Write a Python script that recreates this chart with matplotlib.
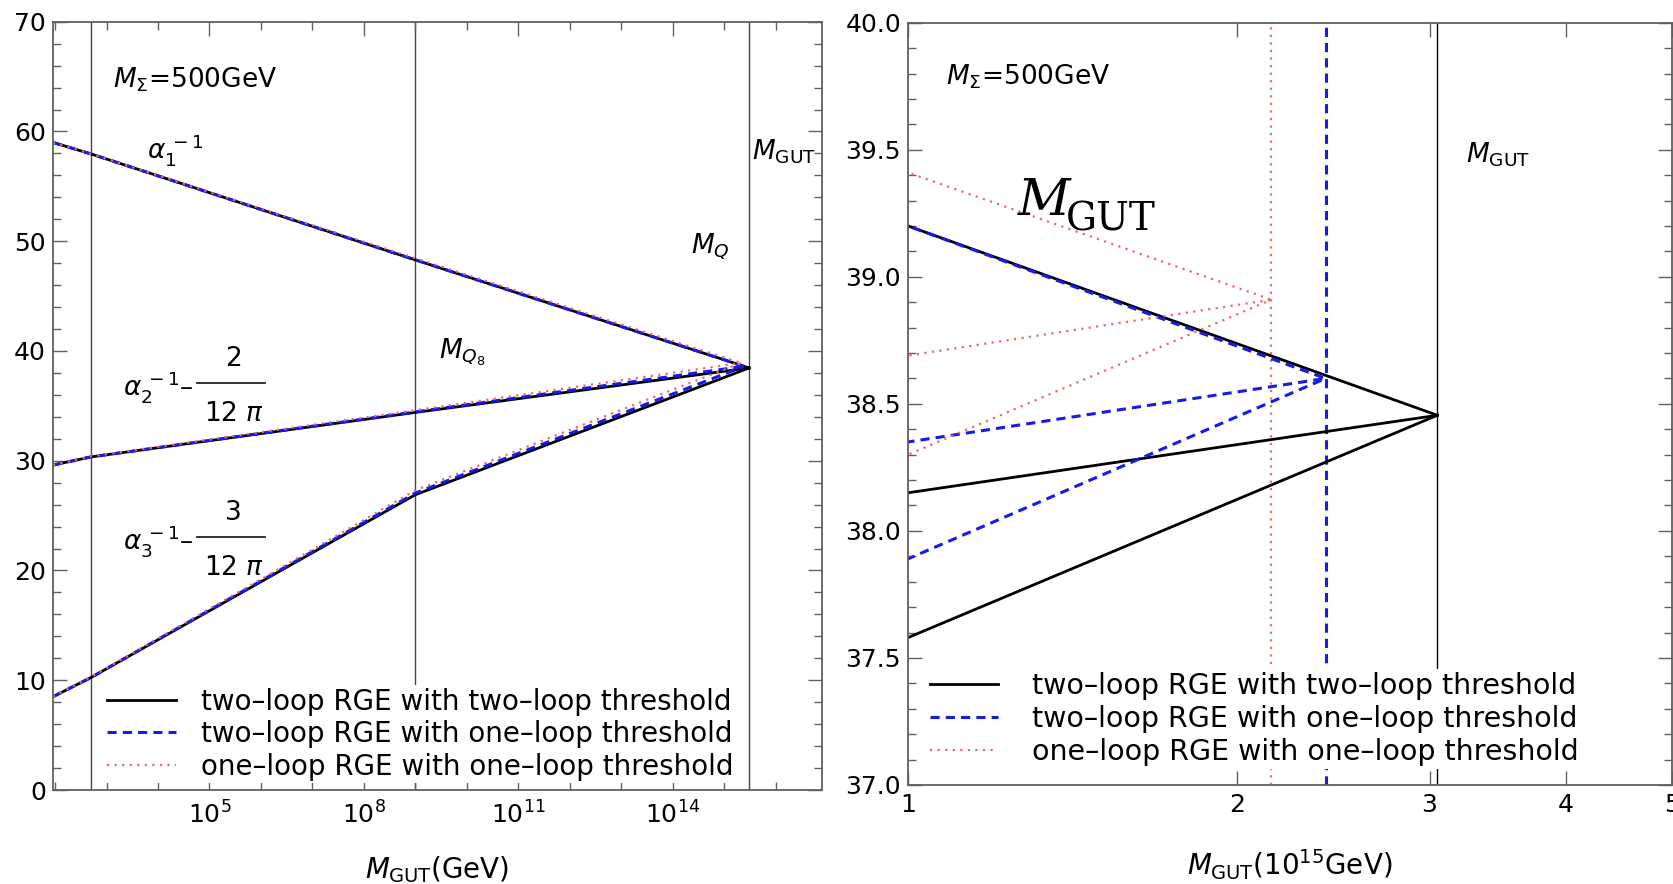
import matplotlib
matplotlib.use("Agg")
import numpy as np
import matplotlib.pyplot as plt
from matplotlib.ticker import (FixedLocator, FixedFormatter, NullFormatter,
                               MultipleLocator, FormatStrFormatter)
from matplotlib.lines import Line2D

plt.rcParams['font.family'] = ['DejaVu Sans']
plt.rcParams['mathtext.fontset'] = 'dejavusans'

# ---- threshold scales (GeV) ----
M_Z = 91.19
M_SIGMA = 500.0
M_Q8 = 1.0e9
M_REF = 1.0e15

# ---- two-loop RGE with two-loop threshold ----
mu_2l2l = [M_Z, M_SIGMA, M_Q8, M_REF, 3.05e15]
a1_2l2l = [59.0, 57.95, 48.3, 39.2, 38.455]
a2_2l2l = [29.6, 30.35, 34.4, 38.15, 38.455]
a3_2l2l = [8.5, 10.25, 26.9, 37.58, 38.455]

# ---- two-loop RGE with one-loop threshold ----
mu_2l1l = [M_Z, M_SIGMA, M_Q8, M_REF, 2.41e15]
a1_2l1l = [59.0, 57.95, 48.3, 39.2, 38.6]
a2_2l1l = [29.6, 30.35, 34.45, 38.35, 38.6]
a3_2l1l = [8.5, 10.25, 27.05, 37.89, 38.6]

# ---- one-loop RGE with one-loop threshold ----
mu_1l1l = [M_Z, M_SIGMA, M_Q8, M_REF, 2.15e15]
a1_1l1l = [59.0, 57.95, 48.45, 39.41, 38.91]
a2_1l1l = [29.6, 30.4, 34.6, 38.69, 38.91]
a3_1l1l = [8.5, 10.3, 27.3, 38.3, 38.91]

labels = ["two\u2013loop RGE with two\u2013loop threshold",
          "two\u2013loop RGE with one\u2013loop threshold",
          "one\u2013loop RGE with one\u2013loop threshold"]

left_xticks = [1e5, 1e8, 1e11, 1e14]
left_xticklabels = [r"$10^{5}$", r"$10^{8}$", r"$10^{11}$", r"$10^{14}$"]
right_xticks = [1, 2, 3, 4, 5]
right_xticklabels = ["1", "2", "3", "4", "5"]

styles = [
    dict(color="black", lw=2.0, ls="-"),
    dict(color="#1a1ae6", lw=2.2, ls=(0, (3.0, 2.0))),
    dict(color="#e86a6a", lw=1.6, ls=(0, (1.0, 2.4))),
]
schemes = [
    (mu_2l2l, [a1_2l2l, a2_2l2l, a3_2l2l]),
    (mu_2l1l, [a1_2l1l, a2_2l1l, a3_2l1l]),
    (mu_1l1l, [a1_1l1l, a2_1l1l, a3_1l1l]),
]

W, H = 1673, 884
fig = plt.figure(figsize=(W / 100, H / 100), dpi=100)
axL = fig.add_axes([53 / W, (H - 790) / H, (822 - 53) / W, (790 - 21.7) / H])
axR = fig.add_axes([908 / W, (H - 785) / H, (1672 - 908) / W, (785 - 22.7) / H])

frame_col = "#606060"
for ax in (axL, axR):
    for sp in ax.spines.values():
        sp.set_color(frame_col)
        sp.set_linewidth(1.3)
    ax.tick_params(which="both", direction="in", top=True, right=True,
                   color=frame_col, width=1.0, labelsize=18)
    ax.tick_params(which="major", length=10)
    ax.tick_params(which="minor", length=6)

# ---- left panel: running couplings ----
axL.set_xscale("log")
axL.set_xlim(M_Z, 8e16)
axL.set_ylim(0, 70)
for sc in (M_SIGMA, M_Q8, mu_2l2l[-1]):
    axL.axvline(sc, color="#454545", lw=1.0, zorder=1)

for (mu, curves), st in zip(schemes, styles):
    for a in curves:
        axL.plot(mu, a, **st)

axL.xaxis.set_major_locator(FixedLocator(left_xticks))
axL.xaxis.set_major_formatter(FixedFormatter(left_xticklabels))
axL.xaxis.set_minor_locator(FixedLocator([10.0 ** k for k in range(2, 17)]))
axL.xaxis.set_minor_formatter(NullFormatter())
axL.yaxis.set_major_locator(MultipleLocator(10))
axL.yaxis.set_minor_locator(MultipleLocator(2))
axL.tick_params(axis="x", pad=8)
axL.tick_params(axis="y", pad=5)

lab_fs = 19
axL.text(1334, 64.05, r"$M_{\Sigma}$=500GeV", fontsize=lab_fs, va="baseline")
axL.text(6110, 57.58, r"$\alpha_1^{\,-1}$", fontsize=lab_fs, va="baseline")


def coupling_label(ax, name, num, y_base, y_num, y_bar, y_den):
    """alpha_i^{-1} minus a stacked fraction num / (12 pi)."""
    ax.text(2090, y_base, "$\\alpha_%s^{\\,-1}$\u2013" % name, fontsize=lab_fs,
            va="baseline")
    ax.text(10 ** 5.46, y_num, num, fontsize=lab_fs, ha="center", va="baseline")
    ax.text(10 ** 5.47, y_den, r"12 $\pi$", fontsize=lab_fs, ha="center",
            va="baseline")
    ax.add_line(Line2D([10 ** 4.75, 10 ** 6.07], [y_bar, y_bar], color="#222222",
                       lw=1.3))


coupling_label(axL, "2", "2", 35.9, 38.6, 37.08, 33.6)
coupling_label(axL, "3", "3", 21.9, 24.6, 23.05, 19.6)

axL.text(2.87e9, 39.36, r"$M_{Q_8}$", fontsize=lab_fs, va="baseline")
axL.text(2.24e14, 48.9, r"$M_{Q}$", fontsize=lab_fs, va="baseline")
axL.text(3.47e15, 57.4, r"$M_{\mathrm{GUT}}$", fontsize=lab_fs, va="baseline")
axL.text(0.5, -0.1145, r"$M_{\mathrm{GUT}}$(GeV)", fontsize=20, ha="center",
         va="baseline", transform=axL.transAxes)

handles = [Line2D([], [], **st) for st in styles]
axL.legend(handles, labels, loc="upper left", bbox_to_anchor=(0.0663, 0.137),
           fontsize=20, frameon=True, framealpha=1, facecolor="white",
           edgecolor="none", fancybox=False, handlelength=2.5, handletextpad=0.9,
           labelspacing=0.165, borderpad=0.1, borderaxespad=0)

# ---- right panel: zoom near unification, x in units of 1e15 GeV ----
axR.set_xscale("log")
axR.set_xlim(1, 5)
axR.set_ylim(37.0, 40.0)
vstyles = [
    dict(color="black", lw=1.0, ls="-"),
    dict(color="#1a1ae6", lw=2.2, ls=(0, (3.0, 2.0))),
    dict(color="#e86a6a", lw=1.6, ls=(0, (1.0, 2.4))),
]
for (mu, curves), st, vst in zip(schemes, styles, vstyles):
    axR.axvline(mu[-1] / 1e15, zorder=1, **vst)
    for a in curves:
        axR.plot(np.asarray(mu) / 1e15, a, **st)

axR.xaxis.set_major_locator(FixedLocator(right_xticks))
axR.xaxis.set_major_formatter(FixedFormatter(right_xticklabels))
axR.xaxis.set_minor_locator(FixedLocator([]))
axR.yaxis.set_major_locator(MultipleLocator(0.5))
axR.yaxis.set_minor_locator(MultipleLocator(0.1))
axR.yaxis.set_major_formatter(FormatStrFormatter("%.1f"))
axR.tick_params(axis="x", pad=6)
axR.tick_params(axis="y", pad=5)

axR.text(1.083, 39.755, r"$M_{\Sigma}$=500GeV", fontsize=lab_fs, va="baseline")
axR.text(3.243, 39.448, r"$M_{\mathrm{GUT}}$", fontsize=lab_fs, va="baseline")
axR.text(1.2606, 39.243, "M", fontsize=37, family="DejaVu Serif", style="italic",
         va="baseline")
axR.text(1.394, 39.184, "GUT", fontsize=28, family="DejaVu Serif", va="baseline")
axR.text(0.5, -0.118, r"$M_{\mathrm{GUT}}$(10$^{15}$GeV)", fontsize=20, ha="center",
         va="baseline", transform=axR.transAxes)

axR.legend(handles, labels, loc="upper left", bbox_to_anchor=(0.025, 0.152),
           fontsize=20.5, frameon=True, framealpha=1, facecolor="white",
           edgecolor="none", fancybox=False, handlelength=2.4, handletextpad=1.2,
           labelspacing=0.17, borderpad=0.1, borderaxespad=0)

fig.savefig("out.png", dpi=100)
